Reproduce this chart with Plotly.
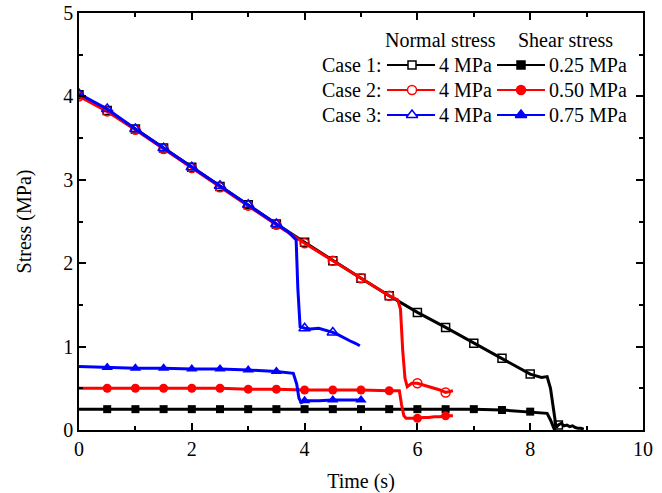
import plotly.graph_objects as go

# ---------------- data ----------------
# Case 1 (black) normal stress
t_n1 = [0, 0.5, 1, 1.5, 2, 2.5, 3, 3.5, 4, 4.5, 5, 5.5, 6, 6.5, 7, 7.5, 8, 8.2, 8.3,
        8.36, 8.42, 8.46, 8.5, 8.55, 8.6, 8.65, 8.7, 8.75, 8.8, 8.85, 8.9, 8.95]
s_n1 = [4.02, 3.83, 3.61, 3.38, 3.15, 2.92, 2.70, 2.47, 2.25, 2.03, 1.82, 1.61, 1.41, 1.23, 1.04,
        0.86, 0.67, 0.63, 0.64, 0.50, 0.25, 0.03, 0.06, 0.08, 0.05, 0.06, 0.04, 0.05, 0.03, 0.02,
        0.02, 0.01]
# Case 2 (red) normal stress
t_n2 = [0, 0.5, 1, 1.5, 2, 2.5, 3, 3.5, 4, 4.5, 5, 5.5, 5.65, 5.7, 5.74, 5.78, 5.82, 5.9,
        6.0, 6.1, 6.2, 6.3, 6.4, 6.5, 6.6, 6.63]
s_n2 = [4.00, 3.82, 3.60, 3.37, 3.14, 2.91, 2.69, 2.46, 2.24, 2.03, 1.82, 1.61, 1.56, 1.45,
        0.95, 0.62, 0.52, 0.56, 0.56, 0.54, 0.52, 0.50, 0.48, 0.45, 0.46, 0.47]
# Case 3 (blue) normal stress
t_n3 = [0, 0.5, 1, 1.5, 2, 2.5, 3, 3.5, 3.7, 3.8, 3.85, 3.88, 3.92, 4.0, 4.1, 4.25, 4.4,
        4.5, 4.6, 4.7, 4.8, 4.9, 4.98]
s_n3 = [4.03, 3.85, 3.61, 3.38, 3.15, 2.93, 2.70, 2.47, 2.38, 2.32, 2.28, 1.70, 1.24, 1.22,
        1.21, 1.22, 1.19, 1.17, 1.14, 1.10, 1.07, 1.04, 1.01]

# Case 1 (black) shear stress
t_s1 = [0, 0.5, 1, 1.5, 2, 2.5, 3, 3.5, 4, 4.5, 5, 5.5, 6, 6.5, 7, 7.5, 8, 8.2, 8.3, 8.36,
        8.42, 8.45]
s_s1 = [0.25, 0.25, 0.25, 0.25, 0.25, 0.25, 0.25, 0.25, 0.25, 0.25, 0.25, 0.25, 0.25, 0.25,
        0.25, 0.24, 0.22, 0.21, 0.20, 0.12, 0.02, 0.00]
# Case 2 (red) shear stress
t_s2 = [0, 0.5, 1, 1.5, 2, 2.5, 3, 3.5, 4, 4.5, 5, 5.5, 5.68, 5.72, 5.76, 5.8, 5.9, 6.0,
        6.1, 6.2, 6.3, 6.4, 6.5, 6.6, 6.63]
s_s2 = [0.50, 0.50, 0.50, 0.50, 0.50, 0.50, 0.49, 0.49, 0.48, 0.48, 0.48, 0.47, 0.47, 0.30,
        0.17, 0.14, 0.14, 0.14, 0.15, 0.15, 0.16, 0.16, 0.17, 0.17, 0.17]
# Case 3 (blue) shear stress
t_s3 = [0, 0.5, 1, 1.5, 2, 2.5, 3, 3.5, 3.7, 3.8, 3.86, 3.9, 3.94, 4.0, 4.25, 4.5, 4.75, 5.0]
s_s3 = [0.76, 0.75, 0.74, 0.74, 0.73, 0.73, 0.72, 0.70, 0.69, 0.68, 0.55, 0.38, 0.33, 0.35,
        0.35, 0.36, 0.36, 0.36]

cases = ["Case 1:", "Case 2:", "Case 3:"]
normal_labels = ["4 MPa", "4 MPa", "4 MPa"]
shear_labels = ["0.25 MPa", "0.50 MPa", "0.75 MPa"]
header_labels = ["Normal stress", "Shear stress"]

# ---------------- style ----------------
FONT = "Liberation Serif, Times New Roman, serif"
colors = ["#000000", "#ff0000", "#0000ff"]
open_symbols = ["square-open", "circle-open", "triangle-up-open"]
filled_symbols = ["square", "circle", "triangle-up"]
msize = [8, 9, 10]

fig = go.Figure()


def marker_pts(t, s, start):
    mt, ms = [], []
    for a, b in zip(t, s):
        if abs(a * 2 - round(a * 2)) < 1e-9 and a >= start - 1e-9:
            mt.append(a)
            ms.append(b)
    return mt, ms


normal = [(t_n1, s_n1), (t_n2, s_n2), (t_n3, s_n3)]
shear = [(t_s1, s_s1), (t_s2, s_s2), (t_s3, s_s3)]

# shear first (below), then normal
for i in [0, 1, 2]:
    t, s = shear[i]
    fig.add_trace(go.Scatter(x=t, y=s, mode="lines", line=dict(color=colors[i], width=3),
                             showlegend=False, hoverinfo="skip"))
    mt, ms = marker_pts(t, s, 0.5)
    fig.add_trace(go.Scatter(x=mt, y=ms, mode="markers",
                             marker=dict(symbol=filled_symbols[i], color=colors[i], size=msize[i],
                                         line=dict(width=0)),
                             showlegend=False, hoverinfo="skip"))

for i in [0, 1, 2]:
    t, s = normal[i]
    fig.add_trace(go.Scatter(x=t, y=s, mode="lines", line=dict(color=colors[i], width=3),
                             showlegend=False, hoverinfo="skip"))
    mt, ms = marker_pts(t, s, 0.0)
    fig.add_trace(go.Scatter(x=mt, y=ms, mode="markers",
                             marker=dict(symbol=open_symbols[i], color=colors[i], size=msize[i],
                                         line=dict(width=1.5, color=colors[i])),
                             showlegend=False, hoverinfo="skip"))

# ---------------- custom legend (pixel overlay axes) ----------------
row_y = [65, 90, 115]
for i in range(3):
    y = row_y[i]
    for (x0, x1, xm, sym, fill) in [(387, 435, 412, open_symbols[i], "white"),
                                    (497, 545, 521, filled_symbols[i], colors[i])]:
        fig.add_trace(go.Scatter(x=[x0, x1], y=[y, y], mode="lines", xaxis="x2", yaxis="y2",
                                 line=dict(color=colors[i], width=2), showlegend=False,
                                 hoverinfo="skip"))
        fig.add_trace(go.Scatter(x=[xm], y=[y], mode="markers", xaxis="x2", yaxis="y2",
                                 marker=dict(symbol=sym.replace("-open", ""), color=fill,
                                             size=msize[i],
                                             line=dict(width=1.5, color=colors[i])),
                                 showlegend=False, hoverinfo="skip"))
    fig.add_annotation(x=383, y=y, xref="x2", yref="y2", text=cases[i], showarrow=False,
                       xanchor="right", yanchor="middle", font=dict(family=FONT, size=20, color="black"))
    fig.add_annotation(x=437, y=y, xref="x2", yref="y2", text=normal_labels[i], showarrow=False,
                       xanchor="left", yanchor="middle", font=dict(family=FONT, size=20, color="black"))
    fig.add_annotation(x=547, y=y, xref="x2", yref="y2", text=shear_labels[i], showarrow=False,
                       xanchor="left", yanchor="middle", font=dict(family=FONT, size=20, color="black"))

for txt, xc in zip(header_labels, [440, 565]):
    fig.add_annotation(x=xc, y=40, xref="x2", yref="y2", text=txt, showarrow=False,
                       xanchor="center", yanchor="middle", font=dict(family=FONT, size=20, color="black"))

axis_common = dict(showgrid=False, zeroline=False, showline=True, linecolor="black", linewidth=1.5,
                   mirror="ticks", ticks="inside", ticklen=7, tickwidth=1.5, tickcolor="black",
                   automargin=False,
                   tickfont=dict(family=FONT, size=20, color="black"))

fig.update_layout(
    width=662, height=493,
    margin=dict(l=79, r=19, t=13, b=63),
    paper_bgcolor="white", plot_bgcolor="white",
    showlegend=False,
    xaxis=dict(range=[0, 10], dtick=2, tick0=0,
               minor=dict(dtick=1, ticks="inside", ticklen=4, tickwidth=1.5, tickcolor="black"),
               title=dict(text="Time (s)", font=dict(family=FONT, size=20, color="black"), standoff=20),
               **axis_common),
    yaxis=dict(range=[0, 5], dtick=1, tick0=0,
               minor=dict(dtick=0.5, ticks="inside", ticklen=4, tickwidth=1.5, tickcolor="black"),
               title=dict(text="Stress (MPa)", font=dict(family=FONT, size=20, color="black"), standoff=26),
               **axis_common),
    xaxis2=dict(range=[79, 643], overlaying="x", visible=False, fixedrange=True),
    yaxis2=dict(range=[430, 13], overlaying="y", visible=False, fixedrange=True),
)

fig.write_html("out.html")
